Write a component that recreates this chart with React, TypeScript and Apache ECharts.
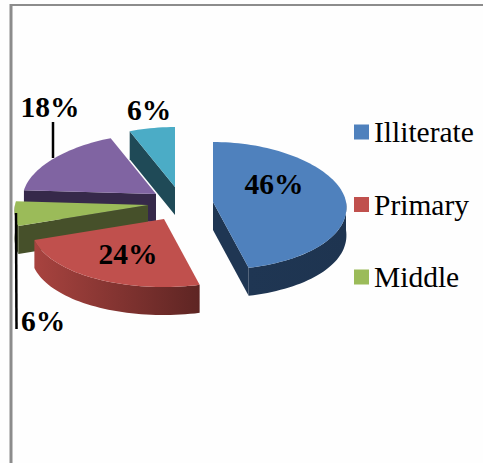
import React, { useEffect, useRef } from "react";
import * as echarts from "echarts";

// Education levels and their share of respondents (percent)
const categories = ["Illiterate", "Primary", "Middle", "Secondary", "Graduate"];
const shares = [46, 24, 6, 18, 6];
const legendEntries = ["Illiterate", "Primary", "Middle"];

// Slice appearance: top face, wall shades
const topColors = ["#4f81bd", "#c0504d", "#9bbb59", "#8064a2", "#4bacc6"];
const wallLeft = ["#1f3653", "#a8433f", "#46502a", "#36294a", "#1f4a57"];
const wallRight = ["#1e3450", "#5e2523", "#46502a", "#36294a", "#1f4a57"];

// Projection of the tilted disc
const CX = 175;
const CY = 204;
const RX = 133;
const RY_BACK = 60;
const RY_FRONT = 68;
const DEPTH = 28;
const PERSPECTIVE = 0.08;

// How far each slice is pulled out of the disc, in pixels
const explode = [[38, -2], [-11, 15], [-27, 1], [-19, -10], [0, -17]];
// Painting order: back slices first
const paintOrder = [4, 5, 3, 2, 1];
// Value label anchors and leader lines
const labelAt = [[274, 184], [128, 254], [43, 321], [50, 107], [149, 110]];
const leaders: (number[] | null)[] = [null, null, [16, 213, 16.5, 329], [53, 122, 53, 158], null];

const total = shares.reduce((a, b) => a + b, 0);
const rad = (d: number) => (d * Math.PI) / 180;

// Screen offset of the rim at clockwise angle deg, measured from 12 o'clock
function rim(deg: number): [number, number] {
  const c = Math.cos(rad(deg));
  const s = Math.sin(rad(deg));
  return [RX * s * (1 - PERSPECTIVE * c), -(c > 0 ? RY_BACK : RY_FRONT) * c];
}

function arcPoints(ax: number, ay: number, from: number, to: number) {
  const pts: number[][] = [];
  const steps = Math.max(2, Math.ceil((to - from) / 2));
  for (let i = 0; i <= steps; i++) {
    const [x, y] = rim(from + ((to - from) * i) / steps);
    pts.push([ax + x, ay + y]);
  }
  return pts;
}

function sliceElements(index: number, value: number, startDeg: number) {
  const endDeg = startDeg + (value / total) * 360;
  const ax = CX + explode[index][0];
  const ay = CY + explode[index][1];
  const children: any[] = [];

  const addEdgeWall = (deg: number) => {
    const [x, y] = rim(deg);
    children.push({
      type: "polygon",
      z2: 1,
      shape: { points: [[ax, ay], [ax + x, ay + y], [ax + x, ay + y + DEPTH], [ax, ay + DEPTH]] },
      style: { fill: wallLeft[index] },
    });
  };
  if (Math.sin(rad(startDeg)) < -1e-6) addEdgeWall(startDeg);
  if (Math.sin(rad(endDeg)) > 1e-6) addEdgeWall(endDeg);

  const wallFrom = Math.max(startDeg, 90);
  const wallTo = Math.min(endDeg, 270);
  if (wallTo > wallFrom) {
    const upper = arcPoints(ax, ay, wallFrom, wallTo);
    const lower = upper.map(([x, y]) => [x, y + DEPTH]).reverse();
    children.push({
      type: "polygon",
      z2: 2,
      shape: { points: [...upper, ...lower] },
      style: {
        fill: new echarts.graphic.LinearGradient(1, 0, 0, 0, [
          { offset: 0, color: wallRight[index] },
          { offset: 1, color: wallLeft[index] },
        ]),
      },
    });
  }

  children.push({
    type: "polygon",
    z2: 3,
    shape: { points: [[ax, ay], ...arcPoints(ax, ay, startDeg, endDeg)] },
    style: { fill: topColors[index] },
  });

  const lead = leaders[index];
  if (lead) {
    children.push({
      type: "line",
      z2: 4,
      shape: { x1: lead[0], y1: lead[1], x2: lead[2], y2: lead[3] },
      style: { stroke: "#000000", lineWidth: 2.5 },
    });
  }
  children.push({
    type: "text",
    z2: 5,
    style: {
      text: `${value}%`,
      x: labelAt[index][0],
      y: labelAt[index][1],
      align: "center",
      verticalAlign: "middle",
      fill: "#000000",
      font: 'bold 29.5px "Liberation Serif"',
    },
  });
  return { type: "group", children };
}

export default function App() {
  const ref = useRef<HTMLDivElement>(null);

  useEffect(() => {
    document.body.style.margin = "0";
    const chart = echarts.init(ref.current!, undefined, { renderer: "svg" });
    let cumulative = 0;
    const series = categories.map((name, i) => {
      const startDeg = (cumulative / total) * 360;
      cumulative += shares[i];
      return {
        type: "custom",
        name,
        coordinateSystem: "none",
        z: 2 + paintOrder[i],
        silent: true,
        itemStyle: { color: topColors[i] },
        data: [shares[i]],
        renderItem: (_p: any, api: any) => sliceElements(i, api.value(0), startDeg),
      };
    });

    chart.setOption({
      animation: false,
      backgroundColor: "#fefefe",
      legend: {
        data: legendEntries.map((name) => ({ name, icon: "rect" })),
        orient: "vertical",
        left: 349,
        top: 112,
        itemWidth: 15,
        itemHeight: 15,
        itemGap: 42.5,
        textStyle: { fontFamily: "Liberation Serif", fontSize: 29.5, color: "#000000" },
      },
      graphic: [
        // Frame of the surrounding table cell
        {
          type: "line",
          shape: { x1: 11, y1: 4, x2: 11, y2: 463 },
          style: { stroke: "#8c8c8c", lineWidth: 3 },
        },
        {
          type: "line",
          shape: { x1: 10, y1: 5, x2: 483, y2: 5 },
          style: { stroke: "#8c8c8c", lineWidth: 2 },
        },
      ],
      series,
    });
    return () => chart.dispose();
  }, []);

  return (
    <div
      ref={ref}
      style={{ position: "absolute", left: 0, top: 0, width: 483, height: 463 }}
    />
  );
}
